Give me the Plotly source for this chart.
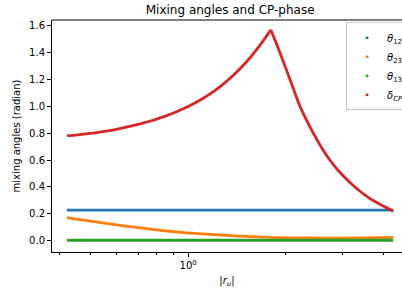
import plotly.graph_objects as go

# ---- data ----
r_u = [0.422, 0.45, 0.5, 0.55, 0.6, 0.65, 0.7, 0.75, 0.8, 0.85, 0.9, 0.95, 1.0, 1.1, 1.2,
       1.3, 1.4, 1.5, 1.6, 1.7, 1.75, 1.8,
       1.85, 1.9, 2.0, 2.1, 2.2, 2.3, 2.4, 2.5, 2.6, 2.8, 3.0, 3.3, 3.6, 4.0, 4.3]
theta12 = [0.227] * len(r_u)
theta23 = [0.171, 0.161, 0.146, 0.131, 0.118, 0.107, 0.097, 0.088, 0.080, 0.073, 0.067,
           0.062, 0.057, 0.051, 0.045, 0.040, 0.036, 0.032, 0.029, 0.026, 0.025, 0.024,
           0.023, 0.022, 0.021, 0.0205, 0.020, 0.0198, 0.0195, 0.0192, 0.019, 0.019,
           0.019, 0.020, 0.021, 0.022, 0.024]
theta13 = [0.003] * len(r_u)
delta_cp = [0.782, 0.787, 0.799, 0.814, 0.830, 0.848, 0.867, 0.886, 0.906, 0.928, 0.951,
            0.975, 1.000, 1.054, 1.113, 1.178, 1.248, 1.322, 1.402, 1.485, 1.528, 1.571,
            1.501, 1.431, 1.289, 1.151, 1.019, 0.917, 0.830, 0.752, 0.682, 0.571, 0.487,
            0.392, 0.322, 0.258, 0.220]
peak_index = 21  # position of the cusp in delta_cp

series_names = ["<i>θ</i><sub>12</sub>", "<i>θ</i><sub>23</sub>",
                "<i>θ</i><sub>13</sub>", "<i>δ</i><sub><i>CP</i></sub>"]
series_vals = [theta12, theta23, theta13, delta_cp]
colors = ["#1f77b4", "#ff7f0e", "#2ca02c", "#d62728"]

x_ticks = [1]
x_ticktext = ["10<sup>0</sup>"]
x_minor = [0.4, 0.5, 0.6, 0.7, 0.8, 0.9, 2, 3, 4]
y_ticks = [0.0, 0.2, 0.4, 0.6, 0.8, 1.0, 1.2, 1.4, 1.6]

FONT = "DejaVu Sans"

fig = go.Figure()
for name, vals, c in zip(series_names, series_vals, colors):
    if vals is delta_cp:
        parts = [(r_u[:peak_index + 1], vals[:peak_index + 1]),
                 (r_u[peak_index:], vals[peak_index:])]
    else:
        parts = [(r_u, vals)]
    for xs, ys in parts:
        fig.add_trace(go.Scatter(x=xs, y=ys, mode="lines",
                                 line=dict(color=c, width=2.8, shape="spline", smoothing=0.6),
                                 showlegend=False, hoverinfo="skip"))
for name, c in zip(series_names, colors):
    fig.add_trace(go.Scatter(x=[None], y=[None], mode="markers", name=name,
                             marker=dict(color=c, size=3)))

fig.update_layout(
    width=402, height=292,
    margin=dict(l=52, r=0, t=20, b=40, autoexpand=False),
    paper_bgcolor="white", plot_bgcolor="white",
    font=dict(family=FONT, size=10, color="black"),
    title=dict(text="Mixing angles and CP-phase", font=dict(size=12, family=FONT),
               x=0.509, xref="paper", xanchor="center",
               y=1 - 10 / 292, yref="container", yanchor="middle"),
    showlegend=True,
    legend=dict(x=0.84, y=0.99, xanchor="left", yanchor="top",
                bordercolor="#cccccc", borderwidth=1, bgcolor="rgba(255,255,255,0.8)",
                font=dict(size=10, family=FONT), tracegroupgap=0),
)
fig.update_xaxes(type="log", range=[-0.4207, 0.6605],
                 tickvals=x_ticks, ticktext=x_ticktext,
                 ticks="outside", ticklen=4, tickcolor="black", tickwidth=1,
                 showline=True, linecolor="black", linewidth=1, mirror=False,
                 showgrid=False, zeroline=False,
                 minor=dict(tickvals=x_minor, ticks="outside", ticklen=2,
                            tickcolor="black", tickwidth=0.8, showgrid=False),
                 title=dict(text="|<i>r</i><sub><i>u</i></sub>|", standoff=6,
                            font=dict(size=10, family=FONT)))
fig.update_yaxes(range=[-0.0847, 1.6446], tickvals=y_ticks, tickformat=".1f",
                 ticks="outside", ticklen=4, tickcolor="black", tickwidth=1,
                 showline=True, linecolor="black", linewidth=1, mirror=False,
                 showgrid=False, zeroline=False,
                 title=dict(text="mixing angles (radian)", standoff=6,
                            font=dict(size=10, family=FONT)))
fig.add_shape(type="line", xref="paper", yref="paper", x0=0, x1=1, y0=1, y1=1,
              line=dict(color="black", width=1))

fig.write_html("out.html", config={"displayModeBar": False},
               post_script="document.body.style.margin='0';document.body.style.overflow='hidden';")
